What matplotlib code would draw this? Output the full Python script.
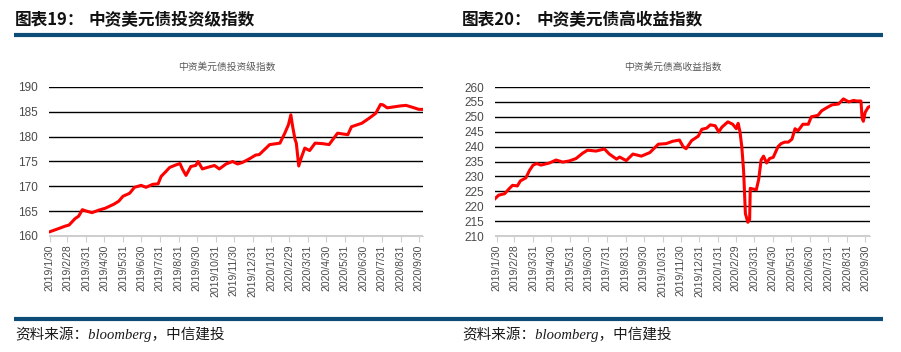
import pandas as pd
import matplotlib
matplotlib.use('Agg')
from matplotlib import pyplot as plt

plt.rcParams['font.family'] = ['Liberation Sans', 'Noto Sans CJK SC']

# ---- data ----
ig_dates = ['2019-01-29', '2019-02-14', '2019-02-25', '2019-03-03', '2019-03-13', '2019-03-19',
            '2019-03-25', '2019-04-01', '2019-04-10', '2019-04-21', '2019-05-02', '2019-05-16',
            '2019-05-24', '2019-05-31', '2019-06-11', '2019-06-19', '2019-06-30', '2019-07-08',
            '2019-07-19', '2019-07-28', '2019-08-02', '2019-08-10', '2019-08-16', '2019-08-24',
            '2019-09-02', '2019-09-06', '2019-09-12', '2019-09-20', '2019-09-28', '2019-10-02',
            '2019-10-09', '2019-10-17', '2019-10-29', '2019-11-06', '2019-11-17', '2019-11-28',
            '2019-12-06', '2019-12-14', '2019-12-25', '2020-01-05', '2020-01-11', '2020-01-28',
            '2020-02-14', '2020-02-22', '2020-02-28', '2020-03-03', '2020-03-06', '2020-03-10',
            '2020-03-12', '2020-03-16', '2020-03-20', '2020-03-26', '2020-04-03', '2020-04-12',
            '2020-04-24', '2020-05-05', '2020-05-19', '2020-06-05', '2020-06-11', '2020-06-28',
            '2020-07-10', '2020-07-21', '2020-07-29', '2020-08-02', '2020-08-09', '2020-08-20',
            '2020-08-31', '2020-09-09', '2020-09-20', '2020-09-30', '2020-10-07']
ig_values = [160.8, 161.5, 162.0, 162.2, 163.5, 164.0,
             165.3, 165.0, 164.7, 165.2, 165.6, 166.4,
             167.0, 168.0, 168.6, 169.8, 170.2, 169.8,
             170.4, 170.5, 172.0, 173.0, 173.8, 174.2,
             174.6, 173.5, 172.2, 174.0, 174.2, 175.0,
             173.5, 173.8, 174.2, 173.5, 174.5, 175.0,
             174.5, 174.8, 175.5, 176.3, 176.4, 178.4,
             178.7, 180.7, 182.4, 184.4, 182.0, 179.4,
             178.7, 174.1, 175.7, 177.7, 177.2, 178.7,
             178.6, 178.4, 180.7, 180.4, 182.0, 182.7,
             183.7, 184.7, 186.5, 186.4, 185.8, 186.0,
             186.2, 186.3, 185.9, 185.5, 185.5]

hy_dates = ['2019-01-27', '2019-02-02', '2019-02-12', '2019-02-20', '2019-02-25', '2019-03-05',
            '2019-03-10', '2019-03-19', '2019-03-25', '2019-03-31', '2019-04-06', '2019-04-13',
            '2019-04-27', '2019-05-08', '2019-05-19', '2019-05-30', '2019-06-10', '2019-06-21',
            '2019-06-29', '2019-07-13', '2019-07-27', '2019-08-04', '2019-08-16', '2019-08-21',
            '2019-09-01', '2019-09-12', '2019-09-26', '2019-10-10', '2019-10-24', '2019-11-06',
            '2019-11-17', '2019-11-28', '2019-12-04', '2019-12-09', '2019-12-18', '2019-12-29',
            '2020-01-04', '2020-01-12', '2020-01-18', '2020-01-26', '2020-02-01', '2020-02-06',
            '2020-02-16', '2020-02-24', '2020-03-01', '2020-03-04', '2020-03-07', '2020-03-10',
            '2020-03-13', '2020-03-16', '2020-03-20', '2020-03-23', '2020-03-24', '2020-04-03',
            '2020-04-07', '2020-04-11', '2020-04-15', '2020-04-20', '2020-04-25', '2020-05-01',
            '2020-05-09', '2020-05-14', '2020-05-20', '2020-05-26', '2020-06-01', '2020-06-06',
            '2020-06-11', '2020-06-19', '2020-06-28', '2020-07-03', '2020-07-14', '2020-07-20',
            '2020-07-28', '2020-08-06', '2020-08-17', '2020-08-25', '2020-09-03', '2020-09-11',
            '2020-09-16', '2020-09-23', '2020-09-25', '2020-09-27', '2020-09-30', '2020-10-05',
            '2020-10-08']
hy_values = [222.5, 223.7, 224.2, 226.0, 227.0, 226.8,
             228.5, 229.5, 232.0, 233.8, 234.3, 233.8,
             234.5, 235.5, 234.8, 235.2, 236.0, 237.8,
             238.8, 238.5, 239.2, 237.5, 235.8, 236.5,
             235.3, 237.5, 236.8, 238.0, 240.8, 241.0,
             241.8, 242.2, 240.0, 239.3, 242.0, 243.5,
             245.8, 246.2, 247.3, 247.0, 244.9, 246.5,
             248.3, 247.5, 246.0, 247.8, 245.0, 240.0,
             232.0, 217.5, 214.6, 215.5, 226.0, 225.5,
             229.0, 235.5, 236.8, 234.5, 236.0, 236.4,
             240.0, 241.0, 241.5, 241.5, 242.5, 246.0,
             245.3, 247.5, 247.5, 250.0, 250.5, 252.0,
             253.0, 254.0, 254.3, 256.0, 255.0, 255.5,
             255.3, 255.3, 249.5, 248.5, 251.5, 253.2,
             253.5]

tick_dates = ['2019-01-30', '2019-02-28', '2019-03-31', '2019-04-30', '2019-05-31', '2019-06-30',
              '2019-07-31', '2019-08-31', '2019-09-30', '2019-10-31', '2019-11-30', '2019-12-31',
              '2020-01-31', '2020-02-29', '2020-03-31', '2020-04-30', '2020-05-31', '2020-06-30',
              '2020-07-31', '2020-08-31', '2020-09-30']
tick_labels = ['2019/1/30', '2019/2/28', '2019/3/31', '2019/4/30', '2019/5/31', '2019/6/30',
               '2019/7/31', '2019/8/31', '2019/9/30', '2019/10/31', '2019/11/30', '2019/12/31',
               '2020/1/31', '2020/2/29', '2020/3/31', '2020/4/30', '2020/5/31', '2020/6/30',
               '2020/7/31', '2020/8/31', '2020/9/30']

ig_ticks = [160, 165, 170, 175, 180, 185, 190]
hy_ticks = [210, 215, 220, 225, 230, 235, 240, 245, 250, 255, 260]

BLUE = '#0e4c78'
TXT = '#4a4a4a'
CJK = ['Noto Sans CJK SC', 'DejaVu Sans']


def panel(ax, dates, values, yticks, xlim, subtitle):
    ax.plot(pd.to_datetime(dates), values, color='#ff0000', lw=2.2, solid_joinstyle='round')
    ax.set_ylim(yticks[0], yticks[-1])
    ax.set_yticks(yticks)
    ax.set_xlim(pd.to_datetime(xlim[0]), pd.to_datetime(xlim[1]))
    ax.set_xticks(pd.to_datetime(tick_dates))
    ax.set_xticklabels(tick_labels, rotation=90)
    ax.grid(axis='y', color='black', lw=1.0)
    ax.set_axisbelow(True)
    for s in ['top', 'right', 'left']:
        ax.spines[s].set_visible(False)
    ax.spines['bottom'].set_color('#d0d0d0')
    ax.tick_params(axis='y', length=0, pad=8, labelsize=8.5, labelcolor=TXT)
    ax.tick_params(axis='x', length=4, color='#d0d0d0', pad=2, labelsize=7.5, labelcolor=TXT)
    ax.set_title(subtitle, fontsize=7, color='#595959', family=CJK, pad=12, x=0.475)


fig = plt.figure(figsize=(9.01, 3.52), dpi=100)
ax1 = fig.add_axes([49 / 901, 1 - 236 / 352, 374 / 901, 149 / 352])
ax2 = fig.add_axes([495 / 901, 1 - 236 / 352, 375 / 901, 149 / 352])

panel(ax1, ig_dates, ig_values, ig_ticks, ('2019-01-29', '2020-10-07'), '中资美元债投资级指数')
panel(ax2, hy_dates, hy_values, hy_ticks, ('2019-01-27', '2020-10-08'), '中资美元债高收益指数')

# headers and footers
for x0, x1, tx, num, name in [(14, 450, 15, '19', '中资美元债投资级指数'),
                              (450, 883, 462, '20', '中资美元债高收益指数')]:
    fig.text(tx / 901, 1 - 20 / 352, '图表' + num + '：', fontsize=12, weight='bold',
             family=CJK, va='center', color='#111111')
    fig.text((tx + 74) / 901, 1 - 20 / 352, name, fontsize=12, weight='bold',
             family=CJK, va='center', color='#111111')
    for yy in (34.5, 318.5):
        fig.add_artist(plt.Line2D([x0 / 901, x1 / 901], [1 - yy / 352, 1 - yy / 352],
                                  color=BLUE, lw=3.0, solid_capstyle='butt'))
    fig.text(tx / 901, 1 - 334 / 352, '资料来源：bloomberg，中信建投', fontsize=10.5,
             style='italic', family=['Liberation Serif', 'Noto Sans CJK SC'],
             va='center', color='#1a1a1a')

fig.savefig('out.png', dpi=100, facecolor='white')
